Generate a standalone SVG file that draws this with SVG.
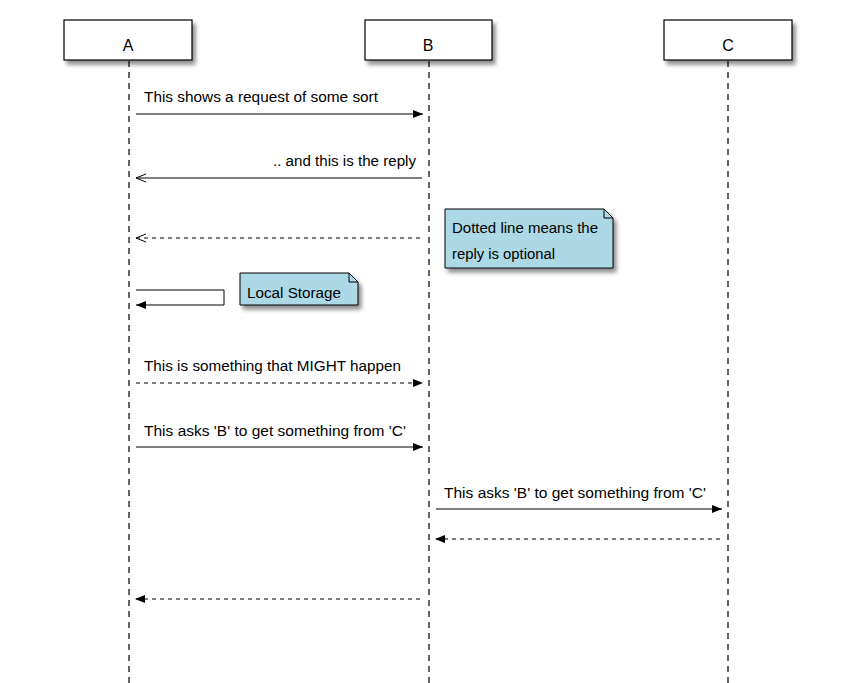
<svg xmlns="http://www.w3.org/2000/svg" width="856" height="683" viewBox="0 0 856 683">
<style>
.actor{fill:#fff;stroke:#000;stroke-width:1.2}
.life{stroke:#000;stroke-width:1.2;stroke-dasharray:6,5;fill:none}
.msg{stroke:#000;stroke-width:1;fill:none}
.dash{stroke-dasharray:4,4}
.note{fill:#ADD8E6;stroke:#000;stroke-width:1}
.t{font-family:"Liberation Sans",Arial,sans-serif;font-size:14px;fill:#000}
.a{font-size:16px}
</style>
<defs>
<filter id="sh" x="-10%" y="-10%" width="130%" height="140%">
<feDropShadow dx="3" dy="4" stdDeviation="2" flood-color="#000" flood-opacity="0.45"/>
</filter>
<marker id="fill" viewBox="0 0 10 10" refX="10" refY="5" markerWidth="10" markerHeight="10" markerUnits="userSpaceOnUse" orient="auto">
<path d="M0,1 L10,5 L0,9 Z" fill="#000"/>
</marker>
<marker id="open" viewBox="0 0 10 10" refX="10" refY="5" markerWidth="10" markerHeight="10" markerUnits="userSpaceOnUse" orient="auto">
<path d="M0,1 L10,5 L0,9" fill="none" stroke="#000" stroke-width="1"/>
</marker>
</defs>
<rect width="856" height="683" fill="#fff"/>
<g id="lifelines">
<line class="life" x1="129" y1="61" x2="129" y2="683"/>
<line class="life" x1="429" y1="61" x2="429" y2="683"/>
<line class="life" x1="728" y1="61" x2="728" y2="683"/>
</g>
<g id="actor-A"><rect class="actor" x="64" y="20" width="128" height="40" filter="url(#sh)"/><text class="t a" x="128" y="51" text-anchor="middle">A</text></g>
<g id="actor-B"><rect class="actor" x="365" y="20" width="127" height="40" filter="url(#sh)"/><text class="t a" x="428" y="51" text-anchor="middle">B</text></g>
<g id="actor-C"><rect class="actor" x="664" y="20" width="128" height="40" filter="url(#sh)"/><text class="t a" x="728" y="51" text-anchor="middle">C</text></g>
<g id="connectors">
<line class="msg" x1="136" y1="114" x2="423" y2="114" marker-end="url(#fill)"/>
<line class="msg" x1="422" y1="178" x2="136" y2="178" marker-end="url(#open)"/>
<line class="msg dash" x1="420" y1="238" x2="136" y2="238" marker-end="url(#open)"/>
<polyline class="msg" points="136,290 224,290 224,305 136,305" marker-end="url(#fill)"/>
<line class="msg dash" x1="136" y1="383" x2="423" y2="383" marker-end="url(#fill)"/>
<line class="msg" x1="136" y1="447" x2="423" y2="447" marker-end="url(#fill)"/>
<line class="msg" x1="436" y1="509" x2="722" y2="509" marker-end="url(#fill)"/>
<line class="msg dash" x1="720" y1="539" x2="435" y2="539" marker-end="url(#fill)"/>
<line class="msg dash" x1="420" y1="599" x2="135" y2="599" marker-end="url(#fill)"/>
</g>
<g id="labels">
<text class="t" x="144" y="102" textLength="234" lengthAdjust="spacingAndGlyphs">This shows a request of some sort</text>
<text class="t" x="273" y="166" textLength="143" lengthAdjust="spacingAndGlyphs">.. and this is the reply</text>
<text class="t" x="144" y="371" textLength="257" lengthAdjust="spacingAndGlyphs">This is something that MIGHT happen</text>
<text class="t" x="144" y="436" textLength="262" lengthAdjust="spacingAndGlyphs">This asks 'B' to get something from 'C'</text>
<text class="t" x="444" y="498" textLength="262" lengthAdjust="spacingAndGlyphs">This asks 'B' to get something from 'C'</text>
</g>
<g id="note-dotted">
<path class="note" d="M445,209 L604,209 L613,218 L613,268 L445,268 Z" filter="url(#sh)"/>
<path class="msg" d="M604,209 L604,218 L613,218"/>
<text class="t" x="452" y="233" textLength="146" lengthAdjust="spacingAndGlyphs">Dotted line means the</text>
<text class="t" x="452" y="259" textLength="103" lengthAdjust="spacingAndGlyphs">reply is optional</text>
</g>
<g id="note-local">
<path class="note" d="M240,273 L349,273 L358,282 L358,305 L240,305 Z" filter="url(#sh)"/>
<path class="msg" d="M349,273 L349,282 L358,282"/>
<text class="t" x="247" y="298" textLength="94" lengthAdjust="spacingAndGlyphs">Local Storage</text>
</g>
</svg>
